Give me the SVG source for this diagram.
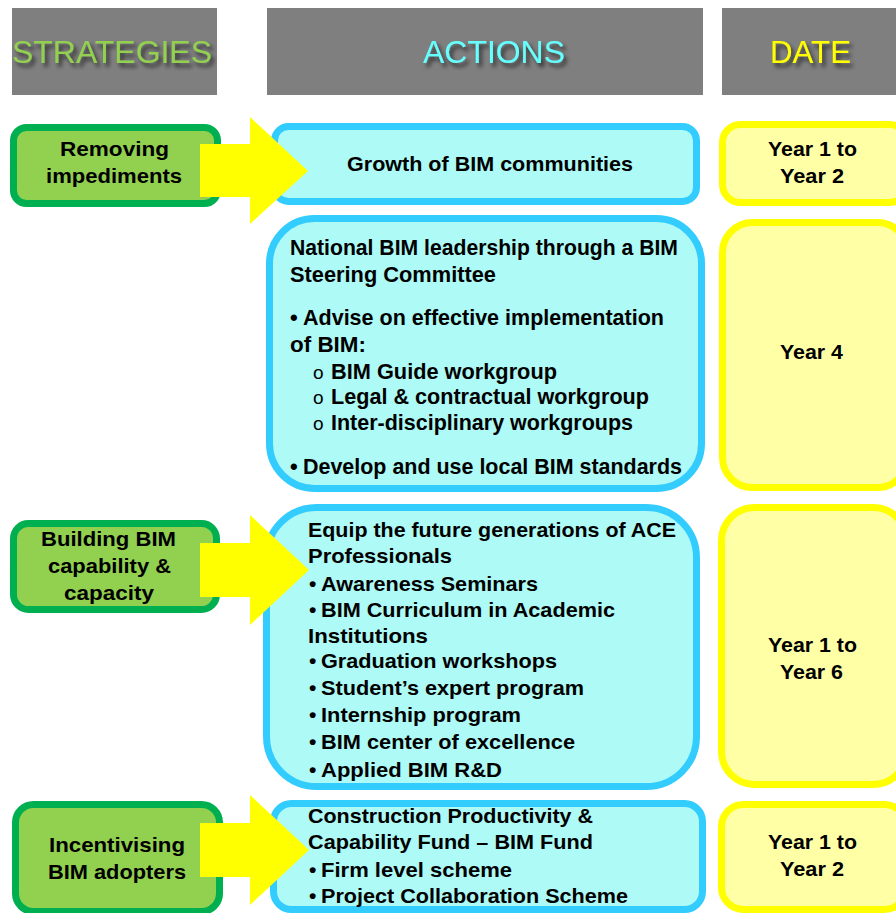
<svg xmlns="http://www.w3.org/2000/svg" width="896" height="913" viewBox="0 0 896 913">
<defs>
<filter id="sh" x="-10%" y="-30%" width="130%" height="180%">
<feDropShadow dx="3" dy="4" stdDeviation="2" flood-color="#000" flood-opacity="0.65"/>
</filter>
</defs>
<style>
.hdr{fill:#7F7F7F}
.ht{font-family:"Liberation Sans Narrow","Liberation Sans",Arial,sans-serif;font-size:31px;font-weight:400;filter:url(#sh)}
.g{fill:#92D050;stroke:#00B050;stroke-width:7}
.c{fill:#ADFAF6;stroke:#33CCFF;stroke-width:7}
.y{fill:#FFFFA6;stroke:#FFFF00;stroke-width:7}
.t{font-family:"Liberation Sans",Arial,sans-serif;font-weight:700;font-size:21px;fill:#000}
.t2{font-family:"Liberation Sans",Arial,sans-serif;font-weight:700;font-size:22px;fill:#000}
.o{font-family:"Liberation Sans",Arial,sans-serif;font-weight:400;font-size:19px;fill:#000}
.arr{fill:#FFFF00}
</style>
<rect width="896" height="913" fill="#FFFFFF"/>
<g id="headers">
<rect class="hdr" x="12" y="8" width="205" height="87"/>
<rect class="hdr" x="267" y="8" width="436" height="87"/>
<rect class="hdr" x="722" y="8" width="174" height="87"/>
<text class="ht" x="12" y="63" fill="#92D050" textLength="200" lengthAdjust="spacingAndGlyphs">STRATEGIES</text>
<text class="ht" x="423" y="63" fill="#66FFFF" textLength="142" lengthAdjust="spacingAndGlyphs">ACTIONS</text>
<text class="ht" x="770" y="63" fill="#FFFF00" textLength="81" lengthAdjust="spacingAndGlyphs">DATE</text>
</g>
<g id="strategy-removing">
<rect class="g" x="13.5" y="127.5" width="204" height="76" rx="13"/>
<text class="t" x="60" y="156" textLength="109" lengthAdjust="spacingAndGlyphs">Removing</text>
<text class="t" x="46" y="183" textLength="136" lengthAdjust="spacingAndGlyphs">impediments</text>
</g>
<g id="strategy-building">
<rect class="g" x="13.5" y="523.5" width="203" height="86" rx="15"/>
<text class="t" x="41" y="546" textLength="135" lengthAdjust="spacingAndGlyphs">Building BIM</text>
<text class="t" x="48" y="573" textLength="123" lengthAdjust="spacingAndGlyphs">capability &amp;</text>
<text class="t" x="64" y="600" textLength="90" lengthAdjust="spacingAndGlyphs">capacity</text>
</g>
<g id="strategy-incentivising">
<rect class="g" x="15.5" y="804.5" width="204" height="107" rx="18"/>
<text class="t" x="49" y="852" textLength="136" lengthAdjust="spacingAndGlyphs">Incentivising</text>
<text class="t" x="48" y="879" textLength="138" lengthAdjust="spacingAndGlyphs">BIM adopters</text>
</g>
<g id="action-growth">
<rect class="c" x="274.5" y="126.5" width="422" height="75" rx="14"/>
<text class="t" x="347" y="171" textLength="286" lengthAdjust="spacingAndGlyphs">Growth of BIM communities</text>
</g>
<g id="action-leadership">
<rect class="c" x="269.5" y="218.5" width="432" height="270" rx="45"/>
<text class="t2" x="290" y="255" textLength="388" lengthAdjust="spacingAndGlyphs">National BIM leadership through a BIM</text>
<text class="t2" x="290" y="282" textLength="206" lengthAdjust="spacingAndGlyphs">Steering Committee</text>
<text class="t2" x="290" y="325">•</text>
<text class="t2" x="303" y="325" textLength="361" lengthAdjust="spacingAndGlyphs">Advise on effective implementation</text>
<text class="t2" x="290" y="352" textLength="76" lengthAdjust="spacingAndGlyphs">of BIM:</text>
<text class="o" x="313" y="379">o</text>
<text class="t2" x="331" y="379" textLength="226" lengthAdjust="spacingAndGlyphs">BIM Guide workgroup</text>
<text class="o" x="313" y="404">o</text>
<text class="t2" x="331" y="404" textLength="318" lengthAdjust="spacingAndGlyphs">Legal &amp; contractual workgroup</text>
<text class="o" x="313" y="430">o</text>
<text class="t2" x="331" y="430" textLength="302" lengthAdjust="spacingAndGlyphs">Inter-disciplinary workgroups</text>
<text class="t2" x="290" y="474">•</text>
<text class="t2" x="303" y="474" textLength="379" lengthAdjust="spacingAndGlyphs">Develop and use local BIM standards</text>
</g>
<g id="action-equip">
<rect class="c" x="266.5" y="507.5" width="430" height="279" rx="50"/>
<text class="t" x="308" y="537" textLength="368" lengthAdjust="spacingAndGlyphs">Equip the future generations of ACE</text>
<text class="t" x="308" y="563" textLength="144" lengthAdjust="spacingAndGlyphs">Professionals</text>
<text class="t" x="309" y="591">•</text>
<text class="t" x="321" y="591" textLength="217" lengthAdjust="spacingAndGlyphs">Awareness Seminars</text>
<text class="t" x="309" y="617">•</text>
<text class="t" x="321" y="617" textLength="294" lengthAdjust="spacingAndGlyphs">BIM Curriculum in Academic</text>
<text class="t" x="308" y="643" textLength="120" lengthAdjust="spacingAndGlyphs">Institutions</text>
<text class="t" x="309" y="668">•</text>
<text class="t" x="321" y="668" textLength="236" lengthAdjust="spacingAndGlyphs">Graduation workshops</text>
<text class="t" x="309" y="695">•</text>
<text class="t" x="321" y="695" textLength="263" lengthAdjust="spacingAndGlyphs">Student’s expert program</text>
<text class="t" x="309" y="722">•</text>
<text class="t" x="321" y="722" textLength="200" lengthAdjust="spacingAndGlyphs">Internship program</text>
<text class="t" x="309" y="749">•</text>
<text class="t" x="321" y="749" textLength="254" lengthAdjust="spacingAndGlyphs">BIM center of excellence</text>
<text class="t" x="309" y="777">•</text>
<text class="t" x="321" y="777" textLength="181" lengthAdjust="spacingAndGlyphs">Applied BIM R&amp;D</text>
</g>
<g id="action-fund">
<rect class="c" x="273.5" y="803.5" width="429" height="106" rx="18"/>
<text class="t" x="308" y="823" textLength="285" lengthAdjust="spacingAndGlyphs">Construction Productivity &amp;</text>
<text class="t" x="308" y="849" textLength="285" lengthAdjust="spacingAndGlyphs">Capability Fund – BIM Fund</text>
<text class="t" x="309" y="877">•</text>
<text class="t" x="321" y="877" textLength="191" lengthAdjust="spacingAndGlyphs">Firm level scheme</text>
<text class="t" x="309" y="903">•</text>
<text class="t" x="321" y="903" textLength="307" lengthAdjust="spacingAndGlyphs">Project Collaboration Scheme</text>
</g>
<g id="date-1">
<rect class="y" x="722.5" y="124.5" width="185" height="78" rx="18"/>
<text class="t" x="768" y="156" textLength="89" lengthAdjust="spacingAndGlyphs">Year 1 to</text>
<text class="t" x="780" y="183" textLength="64" lengthAdjust="spacingAndGlyphs">Year 2</text>
</g>
<g id="date-2">
<rect class="y" x="722.5" y="222.5" width="185" height="265" rx="30"/>
<text class="t" x="780" y="359" textLength="63" lengthAdjust="spacingAndGlyphs">Year 4</text>
</g>
<g id="date-3">
<rect class="y" x="721.5" y="507.5" width="185" height="277" rx="33"/>
<text class="t" x="768" y="652" textLength="89" lengthAdjust="spacingAndGlyphs">Year 1 to</text>
<text class="t" x="780" y="679" textLength="63" lengthAdjust="spacingAndGlyphs">Year 6</text>
</g>
<g id="date-4">
<rect class="y" x="721.5" y="804.5" width="185" height="105" rx="22"/>
<text class="t" x="768" y="849" textLength="89" lengthAdjust="spacingAndGlyphs">Year 1 to</text>
<text class="t" x="780" y="876" textLength="64" lengthAdjust="spacingAndGlyphs">Year 2</text>
</g>
<g id="connectors">
<polygon class="arr" points="200,144 250,144 250,117 308,171 250,224 250,197 200,197"/>
<polygon class="arr" points="200,543 250,543 250,515 309,570 250,625 250,597 200,597"/>
<polygon class="arr" points="200,823 250,823 250,795 309,850 250,905 250,877 200,877"/>
</g>
</svg>
